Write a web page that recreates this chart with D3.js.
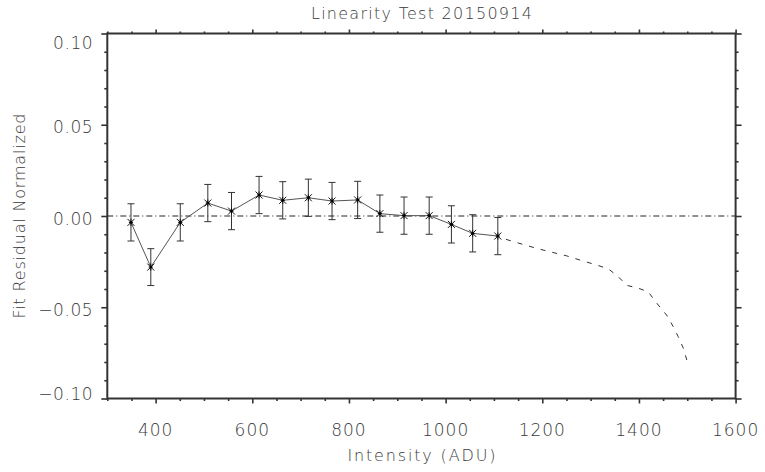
<!DOCTYPE html>
<html>
<head>
<meta charset="utf-8">
<script src="https://cdn.jsdelivr.net/npm/d3@7"></script>
<style>
  html, body { margin: 0; padding: 0; background: #fff; }
  svg { display: block; }
  text { font-family: "DejaVu Sans", "Liberation Sans", sans-serif; fill: #3a3a3a; font-weight: 200; }
</style>
</head>
<body>
<svg id="chart" width="765" height="472"></svg>
<script>
// ---- Data ----
const intensity = [349, 390, 451, 508, 557, 614, 663, 716, 765, 818, 864, 914, 966, 1012, 1056, 1108];
const residual  = [-0.0035, -0.028, -0.0035, 0.0071, 0.0027, 0.0115, 0.0086, 0.0100, 0.0082, 0.0088, 0.0013, 0.0002, 0.0002, -0.0046, -0.0095, -0.011];
const residualErr = [0.0102, 0.0101, 0.0102, 0.0102, 0.0102, 0.0102, 0.0102, 0.0102, 0.0102, 0.0102, 0.0102, 0.0102, 0.0102, 0.0102, 0.0102, 0.0102];
const modelX = [1125, 1150, 1188, 1216, 1250, 1285, 1312, 1337, 1357, 1375, 1399, 1419, 1440, 1457, 1471, 1481, 1492, 1499];
const modelY = [-0.0128, -0.0148, -0.0177, -0.0196, -0.0218, -0.0247, -0.0268, -0.0290, -0.0332, -0.0380, -0.0396, -0.0415, -0.0488, -0.0542, -0.0606, -0.0660, -0.0725, -0.0789];
const xMajorTicks = [400, 600, 800, 1000, 1200, 1400, 1600];
const yMajorTicks = [-0.10, -0.05, 0.00, 0.05, 0.10];
const yTickLabels = ["\u22120.10", "\u22120.05", "0.00", "0.05", "0.10"];
const xDomain = [300, 1600];
const yDomain = [-0.10, 0.10];
const title = "Linearity Test 20150914";
const xTitle = "Intensity (ADU)";
const yTitle = "Fit Residual Normalized";

// ---- Layout ----
const svg = d3.select("#chart");
const m = { left: 107.3, top: 33.5 };
const W = 628.3, H = 365;
const g = svg.append("g").attr("transform", `translate(${m.left},${m.top})`);

const x = d3.scaleLinear().domain(xDomain).range([0, W]);
const y = d3.scaleLinear().domain(yDomain).range([H, 0]);

const xMinor = d3.range(xDomain[0], xDomain[1] + 1, 50).filter(v => !xMajorTicks.includes(v));
const yMinor = d3.range(-10, 11, 1).map(v => +(v / 100).toFixed(2)).filter(v => !yMajorTicks.some(t => Math.abs(t - v) < 1e-9));

const axisColor = "#333";
function styleAxis(sel) {
  sel.select(".domain").remove();
  sel.selectAll("line").attr("stroke", axisColor).attr("stroke-width", 1.6);
  sel.selectAll("text").remove();
}
// bottom
g.append("g").attr("transform", `translate(0,${H})`).call(d3.axisBottom(x).tickValues(xMajorTicks).tickSize(5).tickFormat("")).call(styleAxis);
g.append("g").attr("transform", `translate(0,${H})`).call(d3.axisBottom(x).tickValues(xMinor).tickSize(2.5).tickFormat("")).call(styleAxis);
// top
g.append("g").call(d3.axisTop(x).tickValues(xMajorTicks).tickSize(4).tickFormat("")).call(styleAxis);
g.append("g").call(d3.axisTop(x).tickValues(xMinor).tickSize(2).tickFormat("")).call(styleAxis);
// left
g.append("g").call(d3.axisLeft(y).tickValues(yMajorTicks).tickSize(6).tickFormat("")).call(styleAxis);
g.append("g").call(d3.axisLeft(y).tickValues(yMinor).tickSize(3).tickFormat("")).call(styleAxis);
// right
g.append("g").attr("transform", `translate(${W},0)`).call(d3.axisRight(y).tickValues(yMajorTicks).tickSize(6).tickFormat("")).call(styleAxis);
g.append("g").attr("transform", `translate(${W},0)`).call(d3.axisRight(y).tickValues(yMinor).tickSize(3).tickFormat("")).call(styleAxis);

// frame
g.append("rect").attr("x", 0).attr("y", 0).attr("width", W).attr("height", H)
  .attr("fill", "none").attr("stroke", axisColor).attr("stroke-width", 2);

// tick labels
g.selectAll(".xl").data(xMajorTicks).enter().append("text")
  .attr("x", d => x(d)).attr("y", H + 37)
  .attr("text-anchor", "middle").attr("font-size", 17).attr("letter-spacing", 1).text(d => d);
g.selectAll(".yl").data(yMajorTicks).enter().append("text")
  .attr("x", -14).attr("y", (d) => y(d) + 8.5 + (d === yDomain[1] ? 7 : d === yDomain[0] ? -7 : 0))
  .attr("text-anchor", "end").attr("font-size", 17).attr("letter-spacing", 0.6).text((d, i) => yTickLabels[i]);

// titles
svg.append("text").attr("x", m.left + W / 2).attr("y", 19).attr("text-anchor", "middle").attr("font-size", 16)
  .attr("textLength", 221).attr("lengthAdjust", "spacing").text(title);
svg.append("text").attr("x", m.left + W / 2).attr("y", 461).attr("text-anchor", "middle").attr("font-size", 16)
  .attr("textLength", 148).attr("lengthAdjust", "spacing").text(xTitle);
svg.append("text").attr("transform", `translate(25,${m.top + H / 2}) rotate(-90)`).attr("text-anchor", "middle").attr("font-size", 16)
  .attr("textLength", 205).attr("lengthAdjust", "spacing").text(yTitle);

// zero line (dash-dot)
g.append("line").attr("x1", x(xDomain[0])).attr("x2", x(xDomain[1])).attr("y1", y(0)).attr("y2", y(0))
  .attr("stroke", "#222").attr("stroke-width", 1).attr("stroke-dasharray", "6,3,1,3");

// dashed model curve
const modelData = modelX.map((d, i) => [d, modelY[i]]);
g.append("path").datum(modelData)
  .attr("d", d3.line().x(d => x(d[0])).y(d => y(d[1])))
  .attr("fill", "none").attr("stroke", "#333").attr("stroke-width", 1).attr("stroke-dasharray", "5,7");

// data
const pts = intensity.map((d, i) => ({ x: d, y: residual[i], e: residualErr[i] }));
g.append("path").datum(pts)
  .attr("d", d3.line().x(d => x(d.x)).y(d => y(d.y)))
  .attr("fill", "none").attr("stroke", "#555").attr("stroke-width", 1);

const eb = g.selectAll(".eb").data(pts).enter().append("g");
eb.append("line").attr("x1", d => x(d.x)).attr("x2", d => x(d.x))
  .attr("y1", d => y(d.y + d.e)).attr("y2", d => y(d.y - d.e)).attr("stroke", "#333").attr("stroke-width", 1);
eb.append("line").attr("x1", d => x(d.x) - 3.5).attr("x2", d => x(d.x) + 3.5)
  .attr("y1", d => y(d.y + d.e)).attr("y2", d => y(d.y + d.e)).attr("stroke", "#333").attr("stroke-width", 1);
eb.append("line").attr("x1", d => x(d.x) - 3.5).attr("x2", d => x(d.x) + 3.5)
  .attr("y1", d => y(d.y - d.e)).attr("y2", d => y(d.y - d.e)).attr("stroke", "#333").attr("stroke-width", 1);

// asterisk markers
const r = 3.5;
const mk = g.selectAll(".mk").data(pts).enter().append("g")
  .attr("transform", d => `translate(${x(d.x)},${y(d.y)})`);
[[-r, -r, r, r], [-r, r, r, -r], [0, -r, 0, r], [-r * 0.6, 0, r * 0.6, 0]].forEach(c => {
  mk.append("line").attr("x1", c[0]).attr("y1", c[1]).attr("x2", c[2]).attr("y2", c[3])
    .attr("stroke", "#111").attr("stroke-width", 1);
});
mk.append("circle").attr("r", 1.3).attr("fill", "#000");
</script>
</body>
</html>
